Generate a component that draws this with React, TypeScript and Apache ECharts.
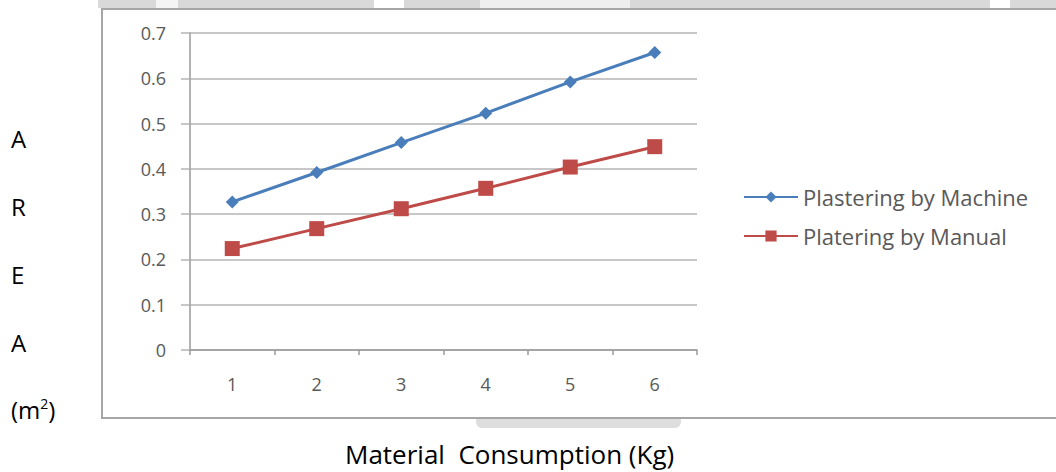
import React, { useEffect, useRef } from "react";
import * as echarts from "echarts";

const categories = ["1", "2", "3", "4", "5", "6"];
const machineValues = [0.327, 0.392, 0.458, 0.523, 0.592, 0.657];
const manualValues = [0.224, 0.268, 0.312, 0.357, 0.404, 0.449];
const seriesNames = ["Plastering by Machine", "Platering by Manual"];
const yLetters = ["A", "R", "E", "A"];
const xTitle = "Material  Consumption (Kg)";

export default function App() {
  const ref = useRef<HTMLDivElement>(null);
  useEffect(() => {
    const chart = echarts.init(ref.current!, null, { renderer: "svg" });
    const font = "'Open Sans', sans-serif";
    const letterYs = [142, 210, 278, 346];
    chart.setOption({
      animation: false,
      backgroundColor: "#ffffff",
      grid: { left: 190, right: 359, top: 33, bottom: 122 },
      legend: {
        orient: "vertical",
        left: 738,
        top: 181,
        itemWidth: 54,
        itemHeight: 14,
        itemGap: 17,
        textStyle: { color: "#595959", fontSize: 22, fontFamily: font },
        data: seriesNames,
      },
      xAxis: {
        type: "category",
        data: categories,
        boundaryGap: true,
        axisLine: { lineStyle: { color: "#9a9a9a", width: 1.5 } },
        axisTick: { show: true, length: 5, lineStyle: { color: "#9a9a9a", width: 1.5 } },
        axisLabel: { color: "#595959", fontSize: 18, fontFamily: font, margin: 25 },
      },
      yAxis: {
        type: "value",
        min: 0,
        max: 0.7,
        interval: 0.1,
        axisLine: { show: true, lineStyle: { color: "#9a9a9a", width: 1.5 } },
        axisTick: { show: true, length: 9, lineStyle: { color: "#b5b5b5", width: 1.5 } },
        splitLine: { lineStyle: { color: "#b5b5b5", width: 1.5 } },
        axisLabel: {
          color: "#595959",
          fontSize: 18,
          fontFamily: font,
          margin: 24,
          formatter: (v: number) => (v === 0 ? "0" : String(Math.round(v * 10) / 10)),
        },
      },
      series: [
        {
          name: seriesNames[0],
          type: "line",
          data: machineValues,
          symbol: "diamond",
          symbolSize: 13,
          lineStyle: { color: "#4a7ebb", width: 3 },
          itemStyle: { color: "#4a7ebb" },
        },
        {
          name: seriesNames[1],
          type: "line",
          data: manualValues,
          symbol: "rect",
          symbolSize: 15,
          lineStyle: { color: "#be4b48", width: 3 },
          itemStyle: { color: "#be4b48" },
        },
      ],
      graphic: [
        { type: "rect", z: -10, shape: { x: 98, y: 0, width: 960, height: 8 }, style: { fill: "#d9d9d9" } },
        { type: "rect", z: -9, shape: { x: 156, y: 0, width: 22, height: 8 }, style: { fill: "#f4f4f4" } },
        { type: "rect", z: -9, shape: { x: 374, y: 0, width: 30, height: 8 }, style: { fill: "#ffffff" } },
        { type: "rect", z: -9, shape: { x: 480, y: 0, width: 150, height: 8 }, style: { fill: "#eeeeee" } },
        { type: "rect", z: -9, shape: { x: 990, y: 0, width: 20, height: 8 }, style: { fill: "#ffffff" } },
        { type: "rect", z: -10, shape: { x: 476, y: 419, width: 205, height: 9, r: [0, 0, 6, 6] }, style: { fill: "#dedede" } },
        {
          type: "rect",
          z: -5,
          shape: { x: 102, y: 9, width: 980, height: 409 },
          style: { fill: "none", stroke: "#a6a6a6", lineWidth: 2 },
        },
        ...yLetters.map((t, i) => ({
          type: "text",
          left: 11,
          top: letterYs[i] - 16,
          style: { text: t, fill: "#000000", font: `24px ${font}` },
        })),
        {
          type: "text",
          left: 11,
          top: 396,
          style: {
            text: "(m{sup|2})",
            fill: "#000000",
            font: `24px ${font}`,
            rich: { sup: { fontSize: 14, fontFamily: "Open Sans", verticalAlign: "top", padding: [0, 0, 12, 0], fill: "#000000" } },
          },
        },
        {
          type: "text",
          left: 345,
          top: 441,
          style: { text: xTitle, fill: "#000000", font: `26px ${font}` },
        },
      ],
    });
    return () => chart.dispose();
  }, []);
  return <div ref={ref} style={{ width: 1056, height: 472, position: "absolute", left: 0, top: 0 }} />;
}
